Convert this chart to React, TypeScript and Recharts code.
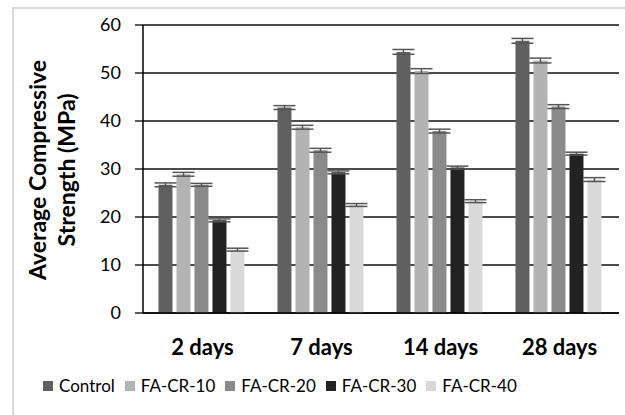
import React from 'react';
import { BarChart, Bar, XAxis, YAxis, CartesianGrid, Legend, ErrorBar } from 'recharts';

// compressive strength by curing age (MPa)
const categories = ['2 days', '7 days', '14 days', '28 days'];
const control = [26.7, 42.8, 54.4, 56.7];
const facr10 = [28.9, 38.7, 50.4, 52.6];
const facr20 = [26.7, 33.9, 37.9, 43.0];
const facr30 = [19.3, 29.3, 30.3, 33.2];
const facr40 = [13.2, 22.5, 23.3, 27.8];

// standard deviation of each mix
const controlErr = [0.4, 0.4, 0.5, 0.5];
const facr10Err = [0.4, 0.4, 0.5, 0.5];
const facr20Err = [0.3, 0.4, 0.4, 0.4];
const facr30Err = [0.3, 0.3, 0.3, 0.3];
const facr40Err = [0.3, 0.3, 0.3, 0.4];

const yTicks = [0, 10, 20, 30, 40, 50, 60];
const edgeTicks = [0, 1, 2, 3, 4];

const series = [
  { key: 'control', name: 'Control', color: '#606060' },
  { key: 'facr10', name: 'FA-CR-10', color: '#b3b3b3' },
  { key: 'facr20', name: 'FA-CR-20', color: '#8a8a8a' },
  { key: 'facr30', name: 'FA-CR-30', color: '#222222' },
  { key: 'facr40', name: 'FA-CR-40', color: '#d9d9d9' },
];

const data = categories.map((name, i) => ({
  name,
  control: control[i],
  facr10: facr10[i],
  facr20: facr20[i],
  facr30: facr30[i],
  facr40: facr40[i],
  controlErr: controlErr[i],
  facr10Err: facr10Err[i],
  facr20Err: facr20Err[i],
  facr30Err: facr30Err[i],
  facr40Err: facr40Err[i],
}));

const FONT = 'Lato, "Noto Sans", sans-serif';

const YLabel = ({ viewBox }: any) => {
  const cy = 170;
  const x1 = viewBox.x + 37;
  const x2 = viewBox.x + 66;
  return (
    <g fontFamily={FONT} fontWeight="bold" fontSize={23} fill="#000" textAnchor="middle">
      <text x={x1} y={cy} dominantBaseline="central" transform={`rotate(-90 ${x1} ${cy})`}>
        Average Compressive
      </text>
      <text x={x2} y={cy} dominantBaseline="central" transform={`rotate(-90 ${x2} ${cy})`}>
        Strength (MPa)
      </text>
    </g>
  );
};

const LegendContent = () => (
  <div
    style={{
      height: 38,
      display: 'flex',
      alignItems: 'flex-start',
      paddingLeft: 43,
      fontFamily: FONT,
      fontSize: 17,
      lineHeight: '17px',
      color: '#000',
    }}
  >
    {series.map((s) => (
      <div key={s.key} style={{ display: 'flex', alignItems: 'center', marginRight: 10 }}>
        <span style={{ width: 10, height: 10, background: s.color, marginRight: 6, display: 'inline-block' }} />
        <span>{s.name}</span>
      </div>
    ))}
  </div>
);

const App: React.FC = () => {
  return (
    <div style={{ position: 'absolute', left: 0, top: 0, width: 625, height: 415, background: '#fff', overflow: 'hidden' }}>
      <div
        style={{
          position: 'absolute',
          left: 12,
          top: 7,
          width: 640,
          height: 440,
          borderLeft: '2px solid #d9d9d9',
          borderTop: '2px solid #d9d9d9',
        }}
      />
      <BarChart
        width={625}
        height={415}
        data={data}
        margin={{ top: 25, right: 6, left: 0, bottom: 0 }}
        barCategoryGap="13%"
        barGap={4}
        style={{ position: 'absolute', left: 0, top: 0 }}
      >
        <CartesianGrid vertical={false} stroke="#111" strokeWidth={1.3} />
        <XAxis
          xAxisId="edges"
          type="number"
          domain={[0, 4]}
          ticks={edgeTicks}
          allowDataOverflow
          height={0}
          axisLine={false}
          tickLine={{ stroke: '#000', strokeWidth: 1.5 }}
          tickSize={7}
          tickFormatter={() => ''}
        />
        <XAxis
          dataKey="name"
          height={64}
          axisLine={{ stroke: '#000', strokeWidth: 1.5 }}
          tickLine={false}
          tickMargin={20}
          tick={{ fill: '#000', fontFamily: FONT, fontWeight: 'bold', fontSize: 22 }}
        />
        <YAxis
          width={143}
          domain={[0, 60]}
          ticks={yTicks}
          interval={0}
          axisLine={{ stroke: '#000', strokeWidth: 1.5 }}
          tickLine={{ stroke: '#000', strokeWidth: 1.3 }}
          tickSize={8}
          tickMargin={14}
          tick={{ fill: '#000', fontFamily: FONT, fontSize: 18 }}
          label={<YLabel />}
        />
        <Legend verticalAlign="bottom" content={<LegendContent />} />
        {series.map((s) => (
          <Bar key={s.key} dataKey={s.key} name={s.name} fill={s.color} isAnimationActive={false}>
            <ErrorBar dataKey={`${s.key}Err`} width={11} stroke="#555" strokeWidth={1.5} />
          </Bar>
        ))}
      </BarChart>
    </div>
  );
};

export default App;
